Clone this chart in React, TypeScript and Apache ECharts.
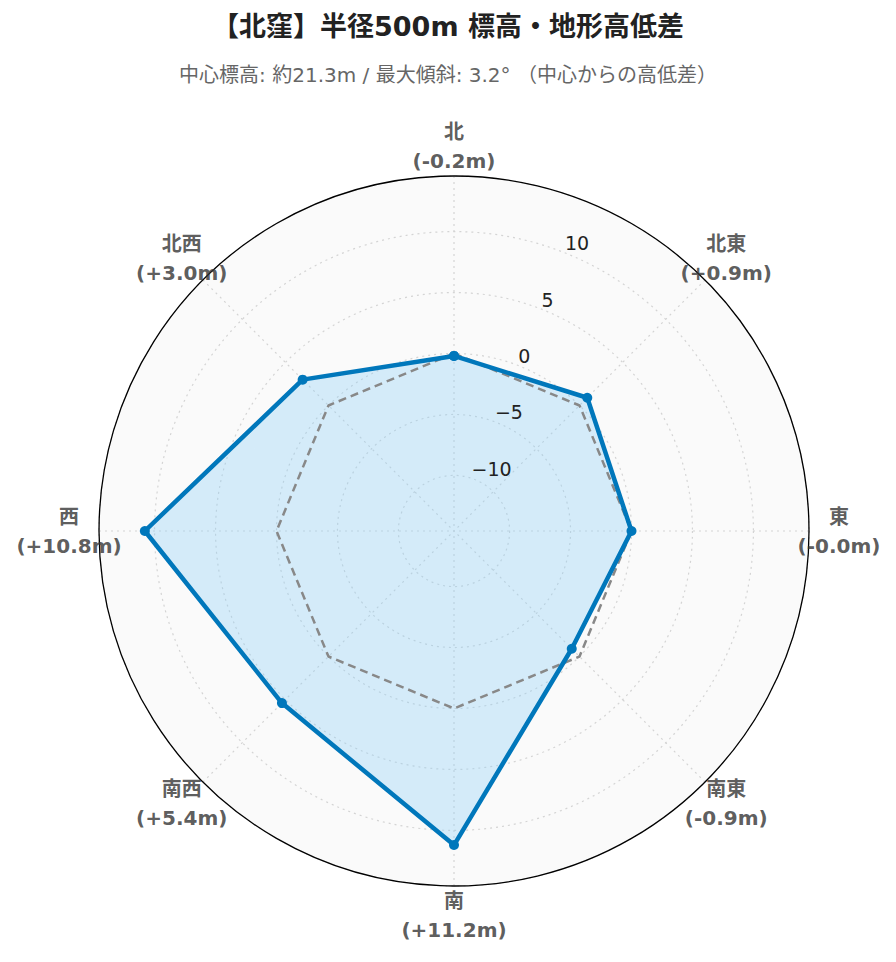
import { useEffect, useRef } from 'react';
import * as echarts from 'echarts';

const directions = ['北', '北東', '東', '南東', '南', '南西', '西', '北西'];
const elevationDiff = [-0.2, 0.9, -0.0, -0.9, 11.2, 5.4, 10.8, 3.0];
const zeroReference = [0, 0, 0, 0, 0, 0, 0, 0];
const radialLimit = 14.56;
const labelRadiusValue = 17.02;
const titleText = '【北窪】半径500m 標高・地形高低差';
const subtitleText = '中心標高: 約21.3m / 最大傾斜: 3.2° （中心からの高低差）';

const FONT = "'DejaVu Sans', 'Noto Sans CJK JP', sans-serif";
const STEP = 360 / directions.length;

const fmtDiff = (v: number) => {
  const neg = v < 0 || Object.is(v, -0);
  return `${neg ? '-' : '+'}${Math.abs(v).toFixed(1)}m`;
};

// polar data: [radius, angle in degrees clockwise from north]; loop closed at 360
const closedLoop = (vals: number[]) => [...vals, vals[0]].map((v, i) => [v, i * STEP]);

export default function App() {
  const ref = useRef<HTMLDivElement>(null);

  useEffect(() => {
    if (!ref.current) return;
    const chart = echarts.init(ref.current, undefined, { renderer: 'svg' });
    const center = [446, 523];
    const radius = 355;
    const gridLine = { color: '#d4d4d4', type: [2, 4], width: 1.2 };
    chart.setOption({
      animation: false,
      backgroundColor: '#ffffff',
      textStyle: { fontFamily: FONT },
      title: [
        {
          text: titleText,
          left: 'center',
          top: 0,
          textStyle: { fontSize: 27, fontWeight: 'bold', color: '#222', fontFamily: FONT },
        },
        {
          text: subtitleText,
          left: 'center',
          top: 52,
          textStyle: { fontSize: 20, fontWeight: 'normal', color: '#666', fontFamily: FONT },
        },
      ],
      polar: [
        { center, radius },
        { center, radius },
      ],
      angleAxis: [
        {
          polarIndex: 0,
          type: 'value',
          min: 0,
          max: 360,
          interval: STEP,
          startAngle: 90,
          clockwise: true,
          axisLine: { show: true, lineStyle: { color: '#000', width: 1.3 } },
          axisTick: { show: false },
          axisLabel: { show: false },
          splitLine: { show: true, lineStyle: gridLine },
          splitArea: { show: false },
        },
        {
          polarIndex: 1,
          type: 'value',
          min: 0,
          max: 360,
          interval: STEP,
          startAngle: 67.5,
          clockwise: true,
          z: -1,
          axisLine: { show: false },
          axisTick: { show: false },
          axisLabel: { show: false },
          splitLine: { show: false },
          splitArea: { show: true, areaStyle: { color: ['#fafafa'] } },
        },
      ],
      radiusAxis: [
        {
          polarIndex: 0,
          type: 'value',
          min: -radialLimit,
          max: radialLimit,
          axisLine: { show: false },
          axisTick: { show: false },
          axisLabel: { show: false },
          splitLine: { show: true, lineStyle: gridLine },
        },
        {
          polarIndex: 1,
          type: 'value',
          min: -radialLimit,
          max: radialLimit,
          z: 6,
          axisLine: { show: false },
          axisTick: { show: false },
          splitLine: { show: false },
          axisLabel: {
            show: true,
            inside: true,
            margin: 4,
            align: 'left',
            verticalAlign: 'bottom',
            showMinLabel: false,
            showMaxLabel: false,
            fontSize: 19,
            color: '#222',
            fontFamily: FONT,
            formatter: (v: number) => (v < 0 ? '\u2212' + Math.abs(v) : String(v)),
          },
        },
      ],
      series: [
        {
          type: 'line',
          coordinateSystem: 'polar',
          polarIndex: 0,
          clip: false,
          data: closedLoop(elevationDiff),
          symbol: 'none',
          lineStyle: { width: 0, opacity: 0 },
          areaStyle: { color: 'rgba(135,206,250,0.32)', opacity: 1, origin: 'start' },
          z: 2,
          silent: true,
        },
        {
          type: 'line',
          coordinateSystem: 'polar',
          polarIndex: 0,
          clip: false,
          data: closedLoop(zeroReference),
          symbol: 'none',
          lineStyle: { color: '#888', width: 2.5, type: [8, 5] },
          z: 3,
          silent: true,
        },
        {
          type: 'line',
          coordinateSystem: 'polar',
          polarIndex: 0,
          clip: false,
          data: closedLoop(elevationDiff),
          symbol: 'circle',
          symbolSize: 10,
          showAllSymbol: true,
          lineStyle: { color: '#0077bb', width: 4.5 },
          itemStyle: { color: '#0077bb' },
          z: 4,
        },
        {
          type: 'scatter',
          coordinateSystem: 'polar',
          polarIndex: 0,
          clip: false,
          symbolSize: 1,
          itemStyle: { color: 'transparent' },
          data: directions.map((_, i) => [labelRadiusValue, i * STEP]),
          label: {
            show: true,
            position: 'inside',
            formatter: (p: any) => `{a|${directions[p.dataIndex]}}\n{a|(${fmtDiff(elevationDiff[p.dataIndex])})}`,
            rich: {
              a: { fontSize: 20, fontWeight: 'bold', color: '#333', lineHeight: 29, fontFamily: FONT, align: 'center' },
            },
          },
          z: 5,
          silent: true,
        },
      ],
    });
    return () => chart.dispose();
  }, []);

  return <div ref={ref} style={{ width: 880, height: 946 }} />;
}
